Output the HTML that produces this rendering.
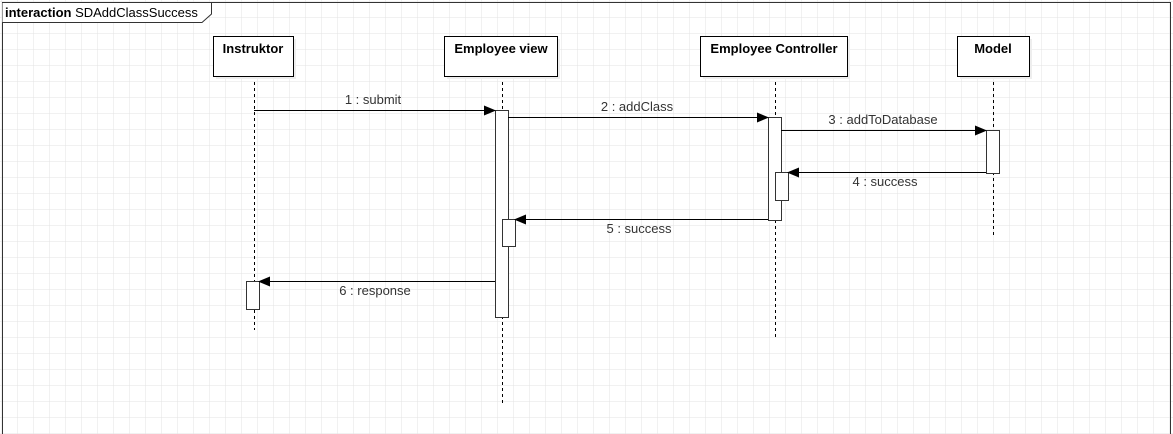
<!DOCTYPE html>
<html><head><style>
body{margin:0;background:#fff;}
svg{display:block;}
text{font-family:"Liberation Sans",sans-serif;font-size:13px;fill:#333;}
.h{font-weight:bold;fill:#000;font-size:13px;}
</style></head><body>
<svg width="1173" height="434" viewBox="0 0 1173 434">
<defs>
<pattern id="g" width="16" height="16" patternUnits="userSpaceOnUse" x="2" y="2">
<path d="M16 0V16H0" fill="none" stroke="#e3e3e3" stroke-width="1"/>
</pattern>
<marker id="a" markerWidth="12" markerHeight="10" refX="11" refY="5" orient="auto" markerUnits="userSpaceOnUse">
<path d="M0,0 L12,5 L0,10z" fill="#000"/>
</marker>
</defs>
<rect width="1173" height="434" fill="url(#g)"/>
<rect x="2.5" y="2.5" width="1168" height="440" fill="none" stroke="#333" stroke-width="1"/>
<path d="M2.5 2.5H211.5V14L202 22.5H2.5" fill="#fff" stroke="#333"/>
<text x="5" y="17" style="font-size:13px;fill:#000"><tspan font-weight="bold">interaction</tspan> SDAddClassSuccess</text>

<g fill="none" stroke="#000" stroke-dasharray="3,3">
<path d="M254.5 76V330"/><path d="M502.5 76V405"/><path d="M775.5 76V338"/><path d="M993.5 76V236"/>
</g>
<g stroke="#000" stroke-width="1">
<rect x="216" y="39" width="80" height="40" fill="#eee" stroke="none"/>
<rect x="447" y="39" width="113" height="40" fill="#eee" stroke="none"/>
<rect x="703" y="39" width="147" height="40" fill="#eee" stroke="none"/>
<rect x="960" y="39" width="72" height="40" fill="#eee" stroke="none"/>
<rect x="213.5" y="36.5" width="80" height="40" fill="#fff"/>
<rect x="444.5" y="36.5" width="113" height="40" fill="#fff"/>
<rect x="700.5" y="36.5" width="147" height="40" fill="#fff"/>
<rect x="957.5" y="36.5" width="72" height="40" fill="#fff"/>
</g>
<text class="h" x="253" y="53" text-anchor="middle">Instruktor</text>
<text class="h" x="501" y="53" text-anchor="middle">Employee view</text>
<text class="h" x="774" y="53" text-anchor="middle">Employee Controller</text>
<text class="h" x="993" y="53" text-anchor="middle">Model</text>

<g fill="#fff" stroke="#333">
<rect x="495.5" y="110.5" width="13" height="207"/>
<rect x="502.5" y="219.5" width="13" height="27"/>
<rect x="768.5" y="117.5" width="13" height="103"/>
<rect x="775.5" y="172.5" width="13" height="28"/>
<rect x="986.5" y="130.5" width="13" height="43"/>
<rect x="246.5" y="281.5" width="13" height="28"/>
</g>
<g stroke="#000" stroke-width="1" marker-end="url(#a)">
<path d="M254 110.5H495"/>
<path d="M508 117.5H768"/>
<path d="M781 130.5H986"/>
<path d="M986 172.5H788"/>
<path d="M768 219.5H515"/>
<path d="M495 281.5H259"/>
</g>
<text x="373" y="104" text-anchor="middle">1 : submit</text>
<text x="637" y="111" text-anchor="middle">2 : addClass</text>
<text x="883" y="124" text-anchor="middle">3 : addToDatabase</text>
<text x="885" y="186" text-anchor="middle">4 : success</text>
<text x="639" y="233" text-anchor="middle">5 : success</text>
<text x="375" y="295" text-anchor="middle">6 : response</text>
</svg>
</body></html>
